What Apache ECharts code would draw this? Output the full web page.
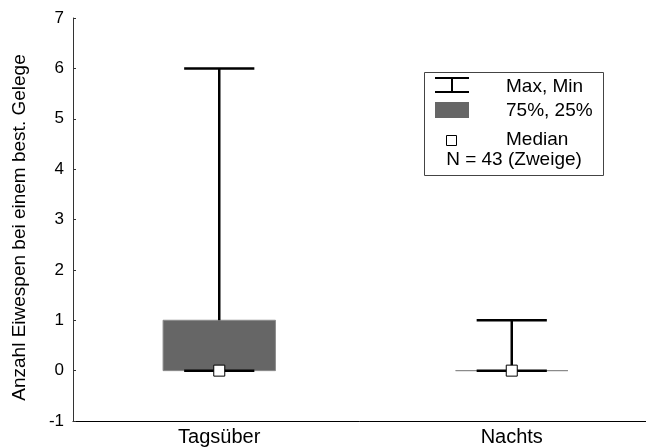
<!DOCTYPE html>
<html>
<head>
<meta charset="utf-8">
<script src="https://cdn.jsdelivr.net/npm/echarts@6/dist/echarts.min.js"></script>
<style>html,body{margin:0;padding:0;background:#fff}#c{width:646px;height:447px}</style>
</head>
<body>
<div id="c"></div>
<script>
const categories = ['Tagsüber', 'Nachts'];
const minVals = [0, 0];
const q1Vals = [0, 0];
const medianVals = [0, 0];
const q3Vals = [1, 0];
const maxVals = [6, 1];
const yMin = -1, yMax = 7, yStep = 1;
const yAxisName = 'Anzahl Eiwespen bei einem best. Gelege';
const legendLabels = ['Max, Min', '75%, 25%', 'Median', 'N = 43 (Zweige)'];

const FONT = '"Liberation Sans", Arial, sans-serif';
const chart = echarts.init(document.getElementById('c'), null, {renderer: 'canvas'});

const data = categories.map((c, i) => [i, minVals[i], q1Vals[i], medianVals[i], q3Vals[i], maxVals[i]]);

function renderItem(params, api) {
  const i = api.value(0);
  const band = api.size([1, 0])[0];
  const cx = api.coord([i, 0])[0];
  const yMinP = api.coord([i, api.value(1)])[1];
  const yQ1 = api.coord([i, api.value(2)])[1];
  const yMed = api.coord([i, api.value(3)])[1];
  const yQ3 = api.coord([i, api.value(4)])[1];
  const yMaxP = api.coord([i, api.value(5)])[1];
  const bw = band * 0.384;
  const cw = band * 0.24;
  const sq = 11;
  const lineStyle = {stroke: '#000', lineWidth: 2.5, fill: null};
  return {
    type: 'group',
    children: [
      {type: 'rect', shape: {x: cx - bw / 2, y: yQ3, width: bw, height: yQ1 - yQ3},
       style: {fill: '#666666', stroke: '#8a8a8a', lineWidth: 1}},
      {type: 'line', shape: {x1: cx, y1: yMaxP, x2: cx, y2: yQ3}, style: lineStyle},
      {type: 'line', shape: {x1: cx - cw / 2, y1: yMaxP, x2: cx + cw / 2, y2: yMaxP}, style: lineStyle},
      {type: 'line', shape: {x1: cx, y1: yQ1, x2: cx, y2: yMinP}, style: lineStyle},
      {type: 'line', shape: {x1: cx - cw / 2, y1: yMinP, x2: cx + cw / 2, y2: yMinP}, style: lineStyle},
      {type: 'rect', shape: {x: cx - sq / 2, y: yMed - sq / 2, width: sq, height: sq},
       style: {fill: '#fff', stroke: '#000', lineWidth: 1}}
    ]
  };
}

const lx = 435, lw = 34, tx = 506;
const LF = '19px ' + FONT;
chart.setOption({
  animation: false,
  backgroundColor: '#fff',
  grid: {left: 73, right: -12, top: 18, bottom: 26, outerBoundsMode: 'none', containLabel: false},
  xAxis: {
    type: 'category', data: categories, boundaryGap: true,
    axisLine: {onZero: false, lineStyle: {color: '#000', width: 1}},
    axisTick: {inside: true, length: 3, lineStyle: {color: '#000'}},
    axisLabel: {fontFamily: FONT, fontSize: 20, color: '#000', margin: 6}
  },
  yAxis: {
    type: 'value', min: yMin, max: yMax, interval: yStep,
    name: yAxisName, nameLocation: 'middle', nameGap: 44,
    nameTextStyle: {fontFamily: FONT, fontSize: 19, color: '#000', padding: [0, 16, 0, 0]},
    axisLine: {show: true, lineStyle: {color: '#333', width: 1}},
    axisTick: {show: true, inside: true, length: 3, lineStyle: {color: '#333'}},
    axisLabel: {fontFamily: FONT, fontSize: 17, color: '#000', margin: 9},
    splitLine: {show: false}
  },
  series: [{type: 'custom', renderItem: renderItem, data: data, encode: {x: 0, y: [1, 2, 3, 4, 5]}, clip: false}],
  graphic: [
    {type: 'rect', shape: {x: 424.5, y: 72.5, width: 179, height: 103}, style: {fill: '#fff', stroke: '#444', lineWidth: 1}, z: 10},
    {type: 'line', shape: {x1: lx, y1: 78, x2: lx + lw, y2: 78}, style: {stroke: '#000', lineWidth: 2}, z: 11},
    {type: 'line', shape: {x1: lx + lw / 2, y1: 78, x2: lx + lw / 2, y2: 92}, style: {stroke: '#000', lineWidth: 2}, z: 11},
    {type: 'line', shape: {x1: lx, y1: 92, x2: lx + lw, y2: 92}, style: {stroke: '#000', lineWidth: 2}, z: 11},
    {type: 'rect', shape: {x: lx, y: 102, width: lw, height: 16}, style: {fill: '#666666'}, z: 11},
    {type: 'rect', shape: {x: 446.5, y: 135.5, width: 10, height: 10}, style: {fill: '#fff', stroke: '#000', lineWidth: 1}, z: 11},
    {type: 'text', x: tx, y: 87, style: {text: legendLabels[0], font: LF, fill: '#000', verticalAlign: 'middle'}, z: 11},
    {type: 'text', x: tx, y: 111, style: {text: legendLabels[1], font: LF, fill: '#000', verticalAlign: 'middle'}, z: 11},
    {type: 'text', x: tx, y: 140, style: {text: legendLabels[2], font: LF, fill: '#000', verticalAlign: 'middle'}, z: 11},
    {type: 'text', x: 514, y: 160, style: {text: legendLabels[3], font: LF, fill: '#000', verticalAlign: 'middle', align: 'center'}, z: 11}
  ]
});
</script>
</body>
</html>
